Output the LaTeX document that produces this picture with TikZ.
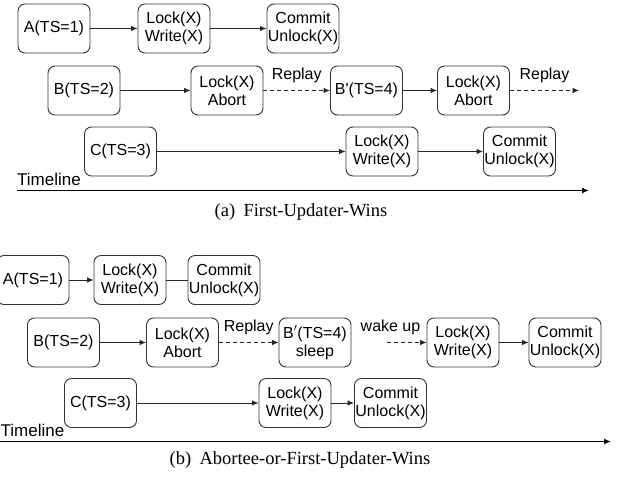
\documentclass[tikz,border=0pt]{standalone}
\usepackage{fontspec}
\setmainfont{Liberation Serif}
\newfontfamily\boxfont{Liberation Sans}
\usetikzlibrary{arrows.meta}
\tikzset{
  stepbox/.style={draw=black!80, line width=0.9pt, rounded corners=7pt,
    minimum width=72pt, minimum height=49pt, inner sep=0pt, align=center,
    font=\boxfont\fontsize{16}{18}\selectfont},
  flow/.style={draw=black!85, line width=0.9pt, -{Latex[length=6.5pt,width=5.5pt]}},
  replayflow/.style={flow, dashed, dash pattern=on 4pt off 3pt},
  plainlink/.style={draw=black!85, line width=0.9pt},
  timeaxis/.style={draw=black, line width=1.8pt, -{Latex[length=7pt,width=6pt]}},
  lbl/.style={font=\boxfont\fontsize{16}{18}\selectfont, inner sep=0pt},
  tlbl/.style={font=\boxfont\fontsize{17}{19}\selectfont, inner sep=0pt},
  caption/.style={font=\fontsize{18.5}{21}\selectfont, inner sep=0pt}
}
\begin{document}
\begin{tikzpicture}[x=1pt,y=-1pt]
\useasboundingbox (0,0) rectangle (618,485);

% ---------- (a) First-Updater-Wins ----------
\node[stepbox] (aA)   at (54,28.5)    {A(TS=1)};
\node[stepbox] (aLW)  at (174,28.5)   {Lock(X)\\Write(X)};
\node[stepbox] (aCU)  at (303,28.5)   {Commit\\Unlock(X)};
\node[stepbox] (aB)   at (84,90.5)    {B(TS=2)};
\node[stepbox] (aLA)  at (227,90.5)   {Lock(X)\\Abort};
\node[stepbox] (aBp)  at (366.5,90.5) {B'(TS=4)};
\node[stepbox] (aLA2) at (473.5,90.5) {Lock(X)\\Abort};
\coordinate (aEnd) at (579,90.5);
\node[stepbox] (aC)   at (120.5,151.5) {C(TS=3)};
\node[stepbox] (aCLW) at (382,151.5)   {Lock(X)\\Write(X)};
\node[stepbox] (aCCU) at (519.5,151.5) {Commit\\Unlock(X)};

\draw[flow] (aA) -- (aLW);
\draw[flow] (aLW) -- (aCU);
\draw[flow] (aB) -- (aLA);
\draw[replayflow] (aLA) -- node[lbl, above=7pt] (aRp1) {Replay} (aBp);
\draw[flow] (aBp) -- (aLA2);
\draw[replayflow] (aLA2.east) -- node[lbl, above=7pt] (aRp2) {Replay} (aEnd);
\draw[flow] (aC) -- (aCLW);
\draw[flow] (aCLW) -- (aCCU);

\node[tlbl, anchor=west] (aTl) at (17,179) {Timeline};
\coordinate (aT0) at (17,190.5);
\coordinate (aT1) at (589,190.5);
\draw[timeaxis] (aT0) -- (aT1);
\node[caption] (capA) at (301,212) {(a)\hspace{0.45em}First-Updater-Wins};

% ---------- (b) Abortee-or-First-Updater-Wins ----------
\node[stepbox] (bA)   at (33,280)    {A(TS=1)};
\node[stepbox] (bLW)  at (130,280)   {Lock(X)\\Write(X)};
\node[stepbox] (bCU)  at (224,280)   {Commit\\Unlock(X)};
\node[stepbox] (bB)   at (63.5,342.5)  {B(TS=2)};
\node[stepbox] (bLA)  at (182.5,342.5) {Lock(X)\\Abort};
\node[stepbox] (bBp)  at (315,342.5)   {B$'$(TS=4)\\sleep};
\coordinate (bWake) at (387,342.5);
\node[stepbox] (bLW2) at (463,342.5)   {Lock(X)\\Write(X)};
\node[stepbox] (bCU2) at (565,342.5)   {Commit\\Unlock(X)};
\node[stepbox] (bC)   at (100.5,403)   {C(TS=3)};
\node[stepbox] (bCLW) at (295,403)     {Lock(X)\\Write(X)};
\node[stepbox] (bCCU) at (390.5,403)   {Commit\\Unlock(X)};

\draw[flow] (bA) -- (bLW);
\draw[plainlink] (bLW) -- (bCU);
\draw[flow] (bB) -- (bLA);
\draw[replayflow] (bLA) -- node[lbl, above=7pt] (bRp) {Replay} (bBp);
\draw[replayflow] (bWake) -- (bLW2);
\node[lbl] (bWk) at (390.5,327) {wake up};
\draw[flow] (bLW2) -- (bCU2);
\draw[flow] (bC) -- (bCLW);
\draw[flow] (bCLW) -- (bCCU);

\node[tlbl, anchor=west] (bTl) at (0.5,430) {Timeline};
\coordinate (bT0) at (-2,441.5);
\coordinate (bT1) at (611,441.5);
\draw[timeaxis] (bT0) -- (bT1);
\node[caption] (capB) at (300,460) {(b)\hspace{0.45em}Abortee-or-First-Updater-Wins};
\end{tikzpicture}
\end{document}
